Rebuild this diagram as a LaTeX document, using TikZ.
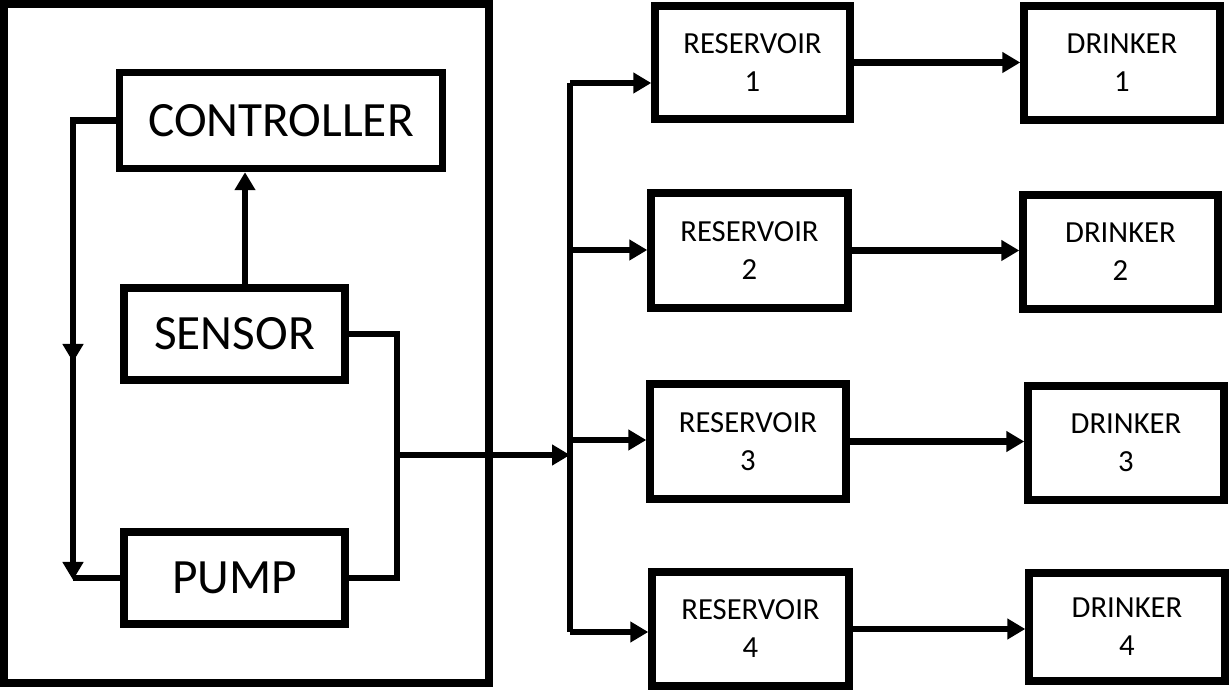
\documentclass[tikz,border=0pt]{standalone}
\usepackage{fontspec}
\setmainfont{Carlito}
\usetikzlibrary{arrows.meta}
\begin{document}
\begin{tikzpicture}[x=0.75pt,y=-0.75pt,
  sz/.style 2 args={minimum width=#1*0.75pt,minimum height=#2*0.75pt},
  box/.style={draw,line width=5.6pt,rectangle,inner sep=0pt,align=center},
  big/.style={font=\fontsize{37}{44}\selectfont},
  small/.style={font=\fontsize{23}{28.5}\selectfont},
  conn/.style={line width=4.9pt,line join=miter},
  arr/.style={conn,-{Triangle[length=13.5pt,width=15pt]}}]
\useasboundingbox (0,0) rectangle (1229,691);

% control unit enclosure
\node[draw,line width=6pt,rectangle,inner sep=0pt,sz={485}{679}] (unit) at (246.5,343.5) {};

% control unit components
\node[box,big,sz={323}{96}] (ctl)    at (281,120.5) {CONTROLLER};
\node[box,big,sz={221}{92}] (sensor) at (234.5,334) {SENSOR};
\node[box,big,sz={221}{92}] (pump)   at (234.5,578) {PUMP};

% reservoirs
\node[box,small,sz={195}{113}] (r1) at (752.5,62.5) {RESERVOIR\\1};
\node[box,small,sz={197}{115}] (r2) at (749.5,250.5) {RESERVOIR\\2};
\node[box,small,sz={196}{115}] (r3) at (748,441.5) {RESERVOIR\\3};
\node[box,small,sz={197}{114}] (r4) at (750.5,629) {RESERVOIR\\4};

% drinkers
\node[box,small,sz={196}{114}] (d1) at (1122,63) {DRINKER\\1};
\node[box,small,sz={195}{114}] (d2) at (1120.5,252) {DRINKER\\2};
\node[box,small,sz={196}{114}] (d3) at (1126,443) {DRINKER\\3};
\node[box,small,sz={196}{108}] (d4) at (1127,627) {DRINKER\\4};

% routing points
\coordinate (up) at (245,0);
\coordinate (lc) at (73,580);
\coordinate (ls) at (73,330);
\coordinate (lm) at (73,362);
\coordinate (sr) at (397,334);
\coordinate (j)  at (397,455);
\coordinate (bj) at (570,455);
\coordinate (b1) at (570,83);
\coordinate (b2) at (570,250);
\coordinate (b3) at (570,440);
\coordinate (b4) at (570,632);

% sensor feedback to controller
\draw[arr] (sensor.north -| up) -- (ctl.south -| up);

% controller to pump
\draw[arr] (ctl.west) -| (lc);
\draw[arr] (ls) -- (lm);
\draw[conn] (lc |- pump.west) -- (pump.west);

% sensor / pump loop and outlet
\draw[conn] (sensor.east) -- (sr) -- (sr |- pump.east) -- (pump.east);
\draw[arr] (j) -- (bj);

% distribution bus
\draw[conn] (b1) -- (b4);
\draw[arr] (b1) -- (r1.west |- b1);
\draw[arr] (b2) -- (r2.west |- b2);
\draw[arr] (b3) -- (r3.west |- b3);
\draw[arr] (b4) -- (r4.west |- b4);

% reservoirs to drinkers
\draw[arr] (r1.east) -- (r1.east -| d1.west);
\draw[arr] (r2.east) -- (r2.east -| d2.west);
\draw[arr] (r3.east) -- (r3.east -| d3.west);
\draw[arr] (r4.east) -- (r4.east -| d4.west);
\end{tikzpicture}
\end{document}
